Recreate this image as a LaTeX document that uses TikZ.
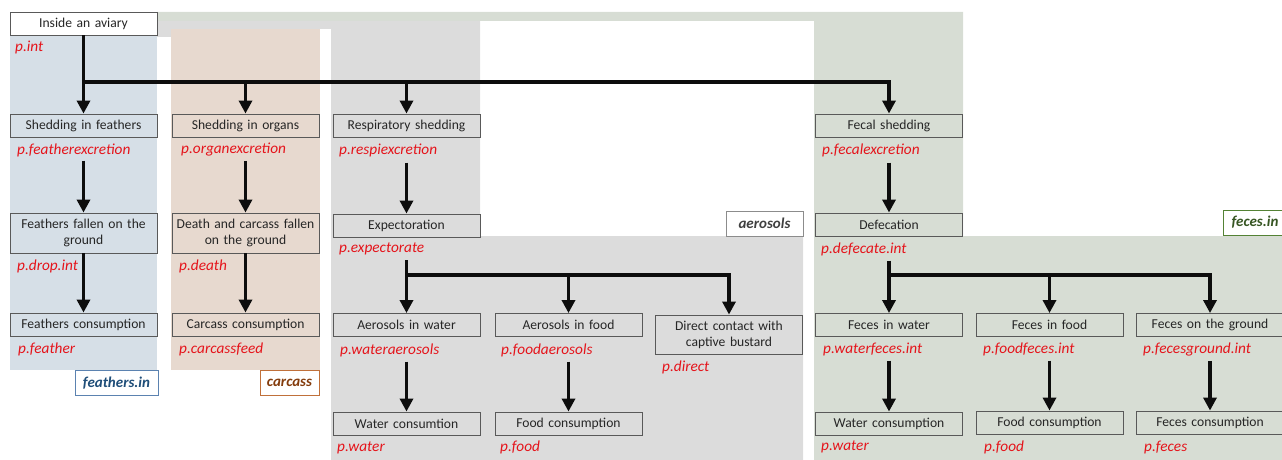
\documentclass[tikz,border=0pt]{standalone}
\usepackage{fontspec}
\setmainfont{Carlito}
\usetikzlibrary{arrows.meta,calc}
\definecolor{featbg}{HTML}{D6DFE7}
\definecolor{carcbg}{HTML}{E7D9CF}
\definecolor{aerobg}{HTML}{DCDCDC}
\definecolor{fecbg}{HTML}{D7DDD4}
\definecolor{featline}{HTML}{5B82B0}
\definecolor{feattext}{HTML}{1F4E79}
\definecolor{carcline}{HTML}{C0703A}
\definecolor{carctext}{HTML}{843C0C}
\definecolor{aeroline}{HTML}{8C8C8C}
\definecolor{aerotext}{HTML}{404040}
\definecolor{fecline}{HTML}{548235}
\definecolor{fectext}{HTML}{375623}
\definecolor{boxline}{HTML}{595959}
\definecolor{boxtext}{HTML}{262626}
\definecolor{probred}{HTML}{E5141B}
\definecolor{arrblack}{HTML}{0D0D0D}
\tikzset{
  box/.style={draw=boxline,line width=0.9pt,minimum width=147pt,minimum height=23pt,text width=146pt,align=center,inner sep=0pt,text=boxtext,font=\fontsize{13.6}{16}\selectfont},
  box2/.style={box,minimum height=40pt},
  prob/.style={anchor=west,inner sep=0pt,text=probred,font=\fontsize{15.3}{17}\selectfont\itshape},
  arr/.style={-{Triangle[length=13pt,width=13pt]},line width=3.3pt,arrblack},
  tag/.style={fill=white,line width=1pt,inner sep=0pt,minimum height=25pt,font=\fontsize{15}{17}\selectfont\bfseries\itshape},
}

\begin{document}
\begin{tikzpicture}[x=1pt,y=-1pt]
  \useasboundingbox (0,0) rectangle (1282,460);
  % pathway areas
  \fill[fecbg] (157,12) -- (963,12) -- (963,236) -- (1282,236) -- (1282,460) -- (814,460) -- (814,21) -- (157,21) -- cycle;
  \fill[aerobg] (157,21) -- (480,21) -- (480,236) -- (803,236) -- (803,460) -- (331,460) -- (331,29) -- (171,29) -- (171,37) -- (157,37) -- cycle;
  \fill[carcbg] (171,29) rectangle (320,370);
  \fill[featbg] (10,30) rectangle (157,370);

  \node[tag,draw=featline,text=feattext,minimum width=83pt] (tFeat) at (116.5,383) {feathers.in};
  \node[tag,draw=carcline,text=carctext,minimum width=59pt] (tCarc) at (289.5,383) {carcass};
  \node[tag,draw=aeroline,text=aerotext,minimum width=77pt] (tAero) at (764.5,223.5) {aerosols};
  \node[tag,draw=fecline,text=fectext,minimum width=64pt] (tFec) at (1255,222.5) {feces.in};

  % boxes
  \node[box,fill=white] (aviary) at (83.5,23.5) {Inside an aviary};
  \node[box] (featherShed) at (83.5,125.5) {Shedding in feathers};
  \node[box] (organShed) at (245.5,125.5) {Shedding in organs};
  \node[box] (respShed) at (406.5,125.5) {Respiratory shedding};
  \node[box] (fecalShed) at (889,125.5) {Fecal shedding};
  \node[box2] (featherDrop) at (83.5,233) {Feathers fallen on the\\ground};
  \node[box2] (death) at (245.5,233) {Death and carcass fallen\\on the ground};
  \node[box] (expect) at (406.5,225.5) {Expectoration};
  \node[box] (defec) at (889,224.5) {Defecation};
  \node[box] (featherCons) at (83.5,324.5) {Feathers consumption};
  \node[box] (carcassCons) at (245.5,324.5) {Carcass consumption};
  \node[box] (aeroWater) at (406.5,325) {Aerosols in water};
  \node[box] (aeroFood) at (568.5,325) {Aerosols in food};
  \node[box,minimum height=39pt] (direct) at (729,334.5) {Direct contact with\\captive bustard};
  \node[box] (fecesWater) at (889,325) {Feces in water};
  \node[box] (fecesFood) at (1049.5,325) {Feces in food};
  \node[box] (fecesGround) at (1210,325) {Feces on the ground};
  \node[box] (waterConsA) at (406.5,423.5) {Water consumtion};
  \node[box] (foodConsA) at (568.5,423.5) {Food consumption};
  \node[box] (waterConsF) at (889,423.5) {Water consumption};
  \node[box] (foodConsF) at (1049.5,422.5) {Food consumption};
  \node[box] (fecesCons) at (1210,422.5) {Feces consumption};

  % probabilities
  \node[prob] (pInt) at (15,47) {p.int};
  \node[prob] (pFeatExc) at (17,150) {p.featherexcretion};
  \node[prob] (pOrgExc) at (181,150) {p.organexcretion};
  \node[prob] (pRespExc) at (339,150) {p.respiexcretion};
  \node[prob] (pFecExc) at (822,150) {p.fecalexcretion};
  \node[prob] (pDrop) at (17,266) {p.drop.int};
  \node[prob] (pDeath) at (179,266) {p.death};
  \node[prob] (pExp) at (339,249) {p.expectorate};
  \node[prob] (pDef) at (821,249) {p.defecate.int};
  \node[prob] (pFeather) at (18,349) {p.feather};
  \node[prob] (pCarc) at (179,349) {p.carcassfeed};
  \node[prob] (pWatAer) at (340,350) {p.wateraerosols};
  \node[prob] (pFoodAer) at (501,350) {p.foodaerosols};
  \node[prob] (pDirect) at (662,367) {p.direct};
  \node[prob] (pWatFec) at (823,349) {p.waterfeces.int};
  \node[prob] (pFoodFec) at (983,349) {p.foodfeces.int};
  \node[prob] (pGround) at (1143,349) {p.fecesground.int};
  \node[prob] (pWaterA) at (337,448) {p.water};
  \node[prob] (pFoodA) at (500,447) {p.food};
  \node[prob] (pWaterF) at (821,447) {p.water};
  \node[prob] (pFoodF) at (984,447) {p.food};
  \node[prob] (pFeces) at (1144,447) {p.feces};

  % arrows
  \coordinate (bus1) at (83.5,82);
  \coordinate (bus2) at (406.5,275);
  \coordinate (bus3) at (889,275);
  \draw[arr] (aviary.south) -- (featherShed.north);
  \draw[arr] (bus1) -| (organShed.north);
  \draw[arr] (bus1) -| (respShed.north);
  \draw[arr] (bus1) -| (fecalShed.north);
  \draw[arr,shorten <=4pt] (featherShed |- pFeatExc.south) -- (featherDrop.north);
  \draw[arr,shorten <=4pt] (organShed |- pOrgExc.south) -- (death.north);
  \draw[arr,shorten <=6pt] (respShed |- pRespExc.south) -- (expect.north);
  \draw[arr,shorten <=6pt] (fecalShed |- pFecExc.south) -- (defec.north);
  \draw[arr] (featherDrop.south) -- (featherCons.north);
  \draw[arr] (death.south) -- (carcassCons.north);
  \draw[arr,shorten <=5pt] (expect |- pExp.south) -- (aeroWater.north);
  \draw[arr] (bus2) -| (aeroFood.north);
  \draw[arr] (bus2) -| (direct.north);
  \draw[arr,shorten <=5pt] (defec |- pDef.south) -- (fecesWater.north);
  \draw[arr] (bus3) -| (fecesFood.north);
  \draw[arr] (bus3) -| (fecesGround.north);
  \draw[arr,shorten <=5pt] (aeroWater |- pWatAer.south) -- (waterConsA.north);
  \draw[arr,shorten <=5pt] (aeroFood |- pFoodAer.south) -- (foodConsA.north);
  \draw[arr,shorten <=5pt] (fecesWater |- pWatFec.south) -- (waterConsF.north);
  \draw[arr,shorten <=5pt] (fecesFood |- pFoodFec.south) -- (foodConsF.north);
  \draw[arr,shorten <=5pt] (fecesGround |- pGround.south) -- (fecesCons.north);
\end{tikzpicture}
\end{document}
